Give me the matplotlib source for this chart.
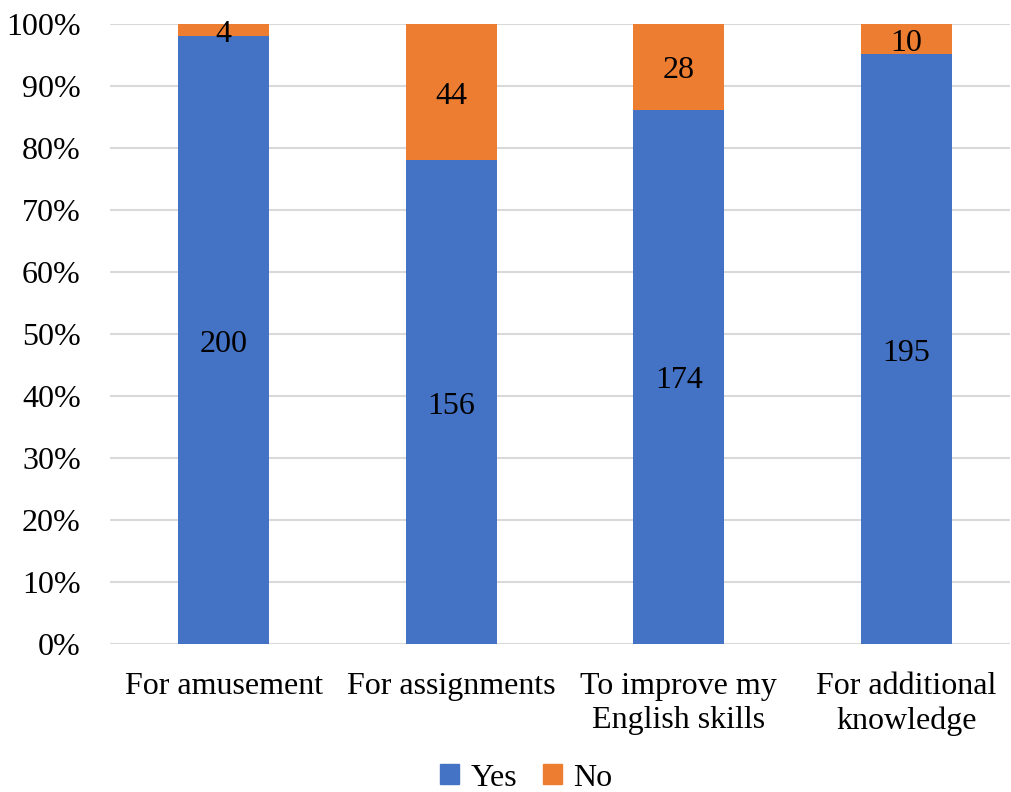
import numpy as np
import matplotlib.pyplot as plt
import matplotlib.transforms as mtransforms
from matplotlib.ticker import FuncFormatter, MultipleLocator
from matplotlib.patches import Patch

plt.rcParams['font.family'] = ['Liberation Serif', 'DejaVu Serif']

categories = ['For amusement', 'For assignments', 'To improve my\nEnglish skills', 'For additional\nknowledge']
yes = [200, 156, 174, 195]
no = [4, 44, 28, 10]

blue = '#4472C4'
orange = '#ED7D31'

yes_a = np.array(yes, dtype=float)
no_a = np.array(no, dtype=float)
total = yes_a + no_a
yes_p = yes_a / total * 100
no_p = no_a / total * 100

W, H = 1012, 792
fig = plt.figure(figsize=(W / 100, H / 100), dpi=100)
ax = fig.add_axes([110 / W, (H - 644) / H, 900 / W, 620 / H])

x = np.arange(len(categories))
ax.bar(x, yes_p, width=0.4, color=blue, zorder=2)
ax.bar(x, no_p, width=0.4, bottom=yes_p, color=orange, zorder=2)

# labels sit a little lower than the bbox centre
lab_tr = ax.transData + mtransforms.ScaledTranslation(0, -4 / 100, fig.dpi_scale_trans)
for i in range(len(x)):
    ax.text(x[i], yes_p[i] / 2, str(yes[i]), ha='center', va='center', fontsize=23,
            zorder=3, transform=lab_tr)
    ax.text(x[i], yes_p[i] + no_p[i] / 2, str(no[i]), ha='center', va='center', fontsize=23,
            zorder=3, transform=lab_tr)

ax.set_xlim(-0.5, -0.5 + 900 / 227.5)
ax.set_ylim(0, 100)
ax.yaxis.set_major_locator(MultipleLocator(10))
ax.yaxis.set_major_formatter(FuncFormatter(lambda v, p: '%d%%' % v))
ax.set_xticks(x)
ax.set_xticklabels(categories, fontsize=23, linespacing=1.25)
ax.tick_params(axis='y', labelsize=23, length=0, pad=21)
ax.tick_params(axis='x', length=0, pad=20)
ax.grid(axis='y', color='#D9D9D9', linewidth=1.5, zorder=0)
for s in ax.spines.values():
    s.set_visible(False)

handles = [Patch(color=blue, label='Yes'), Patch(color=orange, label='No')]
fig.legend(handles=handles, loc='center', bbox_to_anchor=(526 / W, (H - 778) / H), ncol=2,
           frameon=False, fontsize=23, handlelength=0.6, handleheight=0.6,
           handletextpad=0.35, columnspacing=0.8)

fig.savefig('out.png', dpi=100)
